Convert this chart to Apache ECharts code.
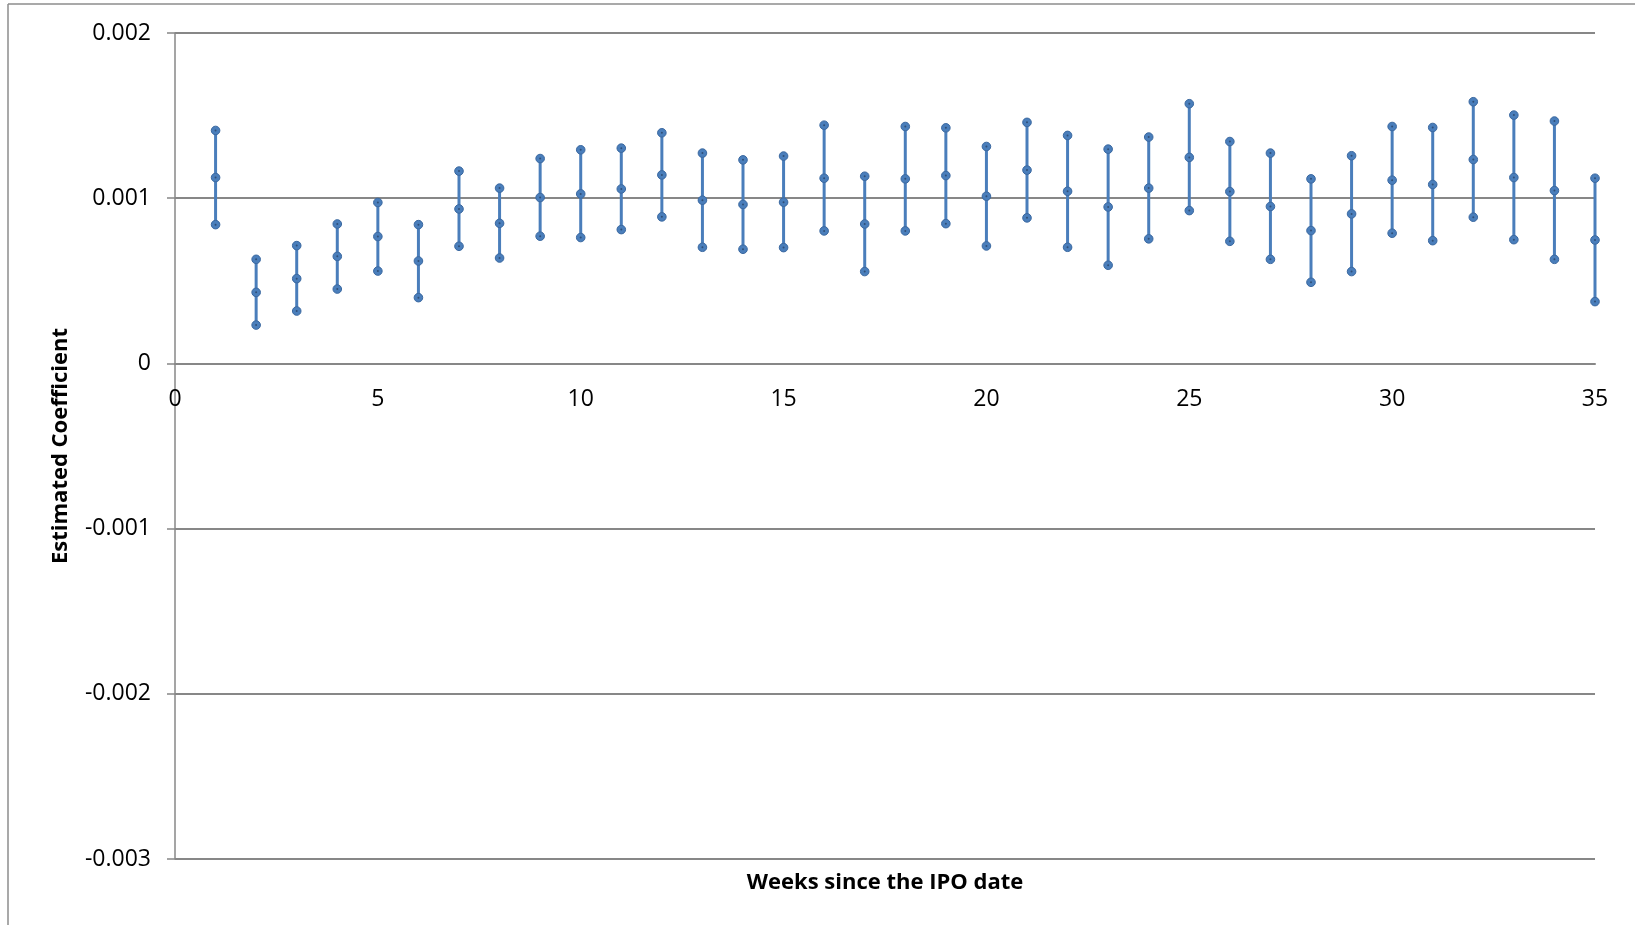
<!DOCTYPE html>
<html>
<head>
<meta charset="utf-8">
<script src="https://cdn.jsdelivr.net/npm/echarts@6/dist/echarts.min.js"></script>
<style>
html,body{margin:0;padding:0;background:#fff;}
#chart{width:1635px;height:925px;}
</style>
</head>
<body>
<div id="chart"></div>
<script>
const weeks = [1,2,3,4,5,6,7,8,9,10,11,12,13,14,15,16,17,18,19,20,21,22,23,24,25,26,27,28,29,30,31,32,33,34,35];
const upper = [0.001410,0.000630,0.000713,0.000844,0.000974,0.000840,0.001164,0.001061,0.001240,0.001293,0.001303,0.001396,0.001273,0.001232,0.001255,0.001442,0.001133,0.001434,0.001426,0.001313,0.001459,0.001380,0.001297,0.001370,0.001572,0.001343,0.001273,0.001117,0.001257,0.001434,0.001428,0.001584,0.001503,0.001467,0.001121];
const estimate = [0.001125,0.000430,0.000513,0.000648,0.000768,0.000620,0.000935,0.000848,0.001004,0.001026,0.001056,0.001141,0.000988,0.000962,0.000976,0.001121,0.000844,0.001117,0.001137,0.001012,0.001170,0.001042,0.000947,0.001061,0.001247,0.001040,0.000950,0.000804,0.000905,0.001109,0.001083,0.001234,0.001125,0.001046,0.000747];
const lower = [0.000840,0.000232,0.000317,0.000450,0.000559,0.000398,0.000709,0.000638,0.000770,0.000762,0.000810,0.000887,0.000703,0.000691,0.000701,0.000802,0.000556,0.000802,0.000846,0.000711,0.000881,0.000703,0.000594,0.000754,0.000925,0.000739,0.000630,0.000491,0.000556,0.000788,0.000743,0.000885,0.000749,0.000630,0.000374];
const yTicks = [-0.003,-0.002,-0.001,0,0.001,0.002];
const xTicks = [0,5,10,15,20,25,30,35];
const yAxisTitle = 'Estimated Coefficient';
const xAxisTitle = 'Weeks since the IPO date';

const seriesData = weeks.map((w,i)=>[w, lower[i], estimate[i], upper[i]]);
const FONT = '"Open Sans", "Noto Sans", sans-serif';
const BLUE = '#4A7EBB';
const DARK = '#3A68A0';
const GRID = '#878787';

const gridTop = 33, gridBottom = 66, H = 925;
const yMin = yTicks[0], yMax = yTicks[yTicks.length-1];
const gridH = H - gridTop - gridBottom;
const zeroOffset = -gridH * (0 - yMin) / (yMax - yMin);

const chart = echarts.init(document.getElementById('chart'), null, {renderer:'canvas'});

chart.setOption({
  animation:false,
  backgroundColor:'#fff',
  grid:{left:175,right:40,top:gridTop,bottom:gridBottom,containLabel:false},
  xAxis:{
    type:'value',min:0,max:35,interval:5,
    position:'bottom',offset:zeroOffset,
    axisLine:{show:true,onZero:false,lineStyle:{color:GRID,width:2}},
    axisTick:{show:false},
    splitLine:{show:false},
    axisLabel:{color:'#000',fontSize:23,fontFamily:FONT,margin:25,
      formatter:(v)=>{const t=xTicks.find(x=>Math.abs(x-v)<1e-9);return t===undefined?'':String(t);}}
  },
  yAxis:{
    type:'value',min:yMin,max:yMax,interval:0.001,
    name:yAxisTitle,nameLocation:'middle',nameRotate:90,nameGap:103,
    nameTextStyle:{color:'#000',fontSize:22,fontWeight:'bold',fontFamily:FONT},
    axisLine:{show:true,onZero:false,lineStyle:{color:GRID,width:1.5}},
    axisTick:{show:true,inside:false,length:8,lineStyle:{color:GRID,width:1.5}},
    splitLine:{show:true,lineStyle:{color:GRID,width:2}},
    axisLabel:{color:'#000',fontSize:23,fontFamily:FONT,margin:24,
      formatter:(v)=>{const t=yTicks.find(x=>Math.abs(x-v)<1e-9);return t===undefined?'':String(t);}}
  },
  graphic:[
    {type:'line',shape:{x1:8,y1:4,x2:1635,y2:4},style:{stroke:'#8c8c8c',lineWidth:1.5},z:10},
    {type:'line',shape:{x1:8,y1:4,x2:8,y2:925},style:{stroke:'#8c8c8c',lineWidth:1.5},z:10},
    {type:'text',x:885,y:883,style:{text:xAxisTitle,textAlign:'center',textVerticalAlign:'middle',
      font:'bold 22px "Open Sans", "Noto Sans", sans-serif',fill:'#000'}}
  ],
  series:[{
    type:'custom',
    data:seriesData,
    clip:false,
    renderItem:(params,api)=>{
      const x=api.value(0);
      const lo=api.coord([x,api.value(1)]);
      const md=api.coord([x,api.value(2)]);
      const hi=api.coord([x,api.value(3)]);
      const marker=(p)=>({type:'circle',shape:{cx:p[0],cy:p[1],r:4.3},style:{fill:BLUE,stroke:DARK,lineWidth:1}});
      const dot=(p)=>({type:'circle',shape:{cx:p[0],cy:p[1],r:1},style:{fill:'#2f4f78'}});
      return {type:'group',children:[
        {type:'line',shape:{x1:hi[0],y1:hi[1],x2:lo[0],y2:lo[1]},style:{stroke:BLUE,lineWidth:3}},
        marker(hi),marker(md),marker(lo),dot(hi),dot(md),dot(lo)
      ]};
    }
  }]
});
</script>
</body>
</html>
